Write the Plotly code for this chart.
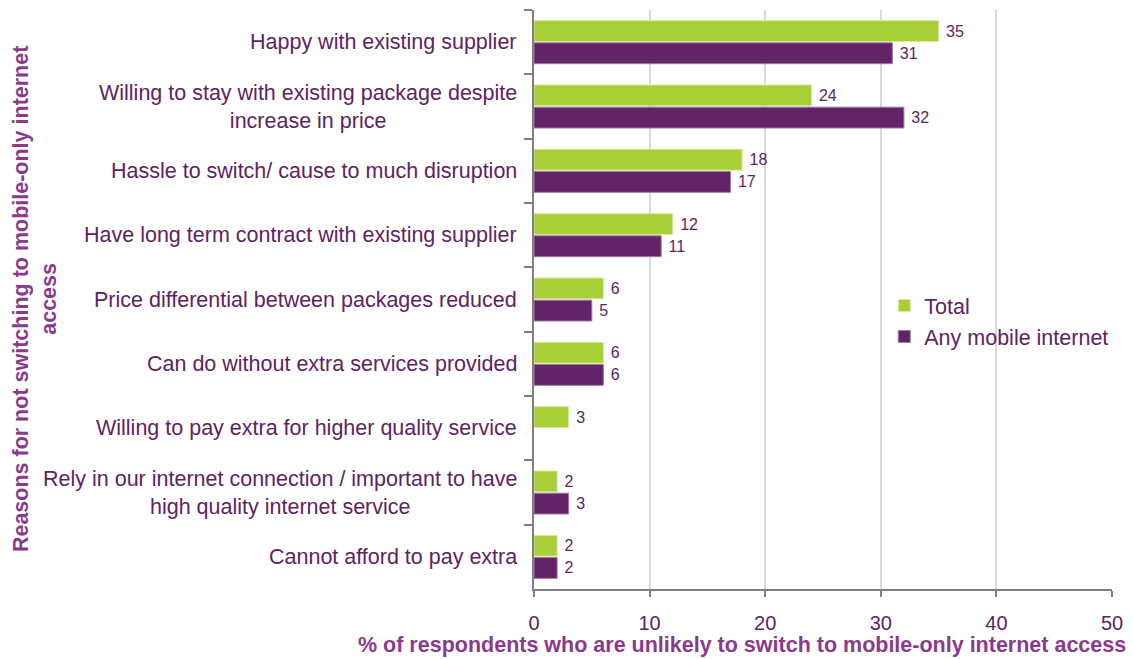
import plotly.graph_objects as go

categories = [
    "Happy with existing supplier",
    "Willing to stay with existing package despite<br>increase in price",
    "Hassle to switch/ cause to much disruption",
    "Have long term contract with existing supplier",
    "Price differential between packages reduced",
    "Can do without extra services provided",
    "Willing to pay extra for higher quality service",
    "Rely in our internet connection / important to have<br>high quality internet service",
    "Cannot afford to pay extra",
]
total = [35, 24, 18, 12, 6, 6, 3, 2, 2]
any_mobile = [31, 32, 17, 11, 5, 6, None, 3, 2]

GREEN = "#A8CE38"
PURPLE = "#622466"
TEXT = "#5E2462"
TITLE = "#8A3A8C"
FONT = "Liberation Sans, Arial, sans-serif"

# small gap between the bar end and its value label
PAD = "\u00a0"

fig = go.Figure()
fig.add_trace(go.Bar(
    y=categories, x=total, name="Total", orientation="h",
    marker=dict(color=GREEN, line=dict(color="#D7EAA0", width=1)),
    text=[PAD + str(v) for v in total], textposition="outside", cliponaxis=False,
    textfont=dict(size=16, color=TEXT, family=FONT),
))
fig.add_trace(go.Bar(
    y=categories, x=any_mobile, name="Any mobile internet", orientation="h",
    marker=dict(color=PURPLE, line=dict(color="#A07AA2", width=1)),
    text=[PAD + str(v) if v is not None else "" for v in any_mobile],
    textposition="outside", cliponaxis=False,
    textfont=dict(size=16, color=TEXT, family=FONT),
))

# category labels: right-aligned against the axis, multi-line ones centred
label_annotations = [
    dict(
        text=c, xref="paper", yref="y", x=0, y=c,
        xanchor="right", yanchor="middle", align="center",
        xshift=-15, showarrow=False,
        font=dict(size=21.5, color=TEXT, family=FONT),
    )
    for c in categories
]

fig.update_layout(
    width=1133, height=659,
    margin=dict(l=534, r=19, t=10, b=70),
    paper_bgcolor="white", plot_bgcolor="white",
    font=dict(family=FONT, color=TEXT, size=20),
    barmode="group", bargap=0.31, bargroupgap=0.06,
    showlegend=True,
    legend=dict(
        x=0.606, y=0.525, xanchor="left", yanchor="top",
        font=dict(size=21.5, color=TEXT, family=FONT),
        bgcolor="rgba(0,0,0,0)", itemwidth=30, tracegroupgap=0,
    ),
    xaxis=dict(
        range=[0, 50], dtick=10, tick0=0,
        showgrid=True, gridcolor="#D9D9D9", gridwidth=1.5,
        showline=True, linecolor="#808080", linewidth=2,
        ticks="outside", ticklen=6, tickcolor="#808080", tickwidth=1.5,
        tickfont=dict(size=20, color=TEXT, family=FONT),
        ticklabelstandoff=9,
        zeroline=False,
    ),
    yaxis=dict(
        autorange="reversed", type="category",
        showline=True, linecolor="#808080", linewidth=2,
        ticks="outside", ticklen=8, tickcolor="#808080", tickwidth=1.5,
        tickson="boundaries", showticklabels=False,
        showgrid=False,
    ),
    annotations=label_annotations + [
        dict(
            text="% of respondents who are unlikely to switch to mobile-only internet access",
            xref="paper", yref="paper", x=1.027, y=-0.1205, xanchor="right", yanchor="bottom",
            showarrow=False, font=dict(size=21.5, color=TITLE, family=FONT, weight="bold"),
        ),
        dict(
            text="Reasons for not switching to mobile-only internet<br>access",
            xref="paper", yref="paper", x=-0.864, y=0.5, xanchor="center", yanchor="middle",
            textangle=-90, showarrow=False,
            font=dict(size=21.5, color=TITLE, family=FONT, weight="bold"),
        ),
    ],
)

fig.write_html("out.html")
